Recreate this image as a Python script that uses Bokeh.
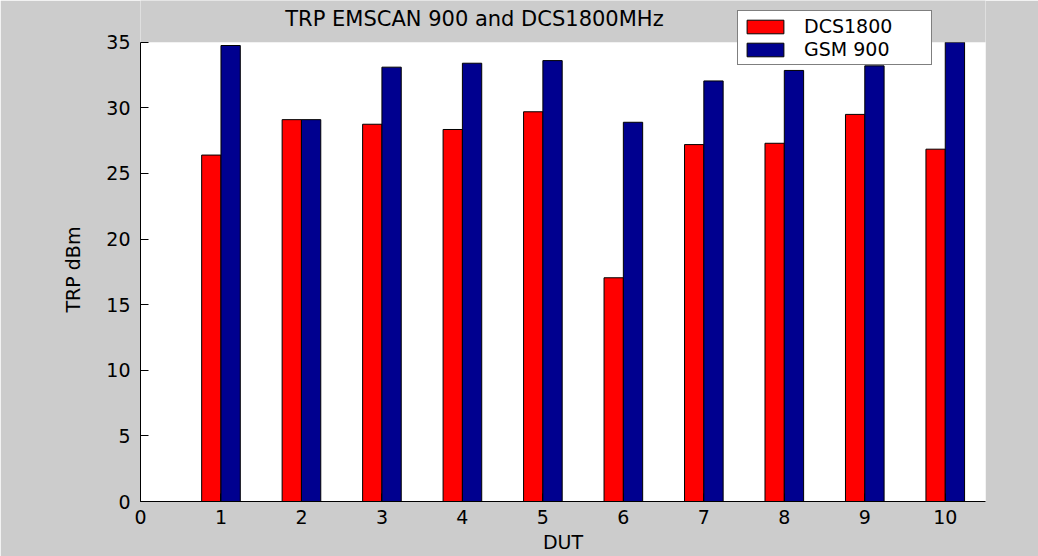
from bokeh.plotting import figure
from bokeh.models import (ColumnDataSource, Legend, LegendItem, Range1d,
                          FixedTicker, Label, Title)
from bokeh.embed import file_html
from bokeh.resources import INLINE

duts = [1, 2, 3, 4, 5, 6, 7, 8, 9, 10]
dcs1800 = [26.4, 29.1, 28.75, 28.35, 29.7, 17.05, 27.2, 27.3, 29.5, 26.85]
gsm900 = [34.75, 29.1, 33.1, 33.4, 33.6, 28.9, 32.05, 32.85, 33.2, 35.0]
x_ticks = [0, 1, 2, 3, 4, 5, 6, 7, 8, 9, 10]
y_ticks = [0, 5, 10, 15, 20, 25, 30, 35]
title_text = "TRP EMSCAN 900 and DCS1800MHz"
x_label = "DUT"
y_label = "TRP dBm"

FONT = "DejaVu Sans"
GRAY = "#CCCCCC"
Y_MAX = max(y_ticks)
Y_TOP = 38.18          # frame extends above the axes so the legend can overlap
X_MAX = 10.5

src = ColumnDataSource(dict(
    x_dcs=[d - 0.12 for d in duts],
    x_gsm=[d + 0.12 for d in duts],
    dcs=dcs1800,
    gsm=gsm900,
))

p = figure(width=1038, height=556,
           x_range=Range1d(0, X_MAX), y_range=Range1d(0, Y_TOP),
           output_backend="svg", toolbar_location=None,
           min_border_left=140, min_border_right=53,
           min_border_top=0, min_border_bottom=55)

p.background_fill_color = "white"
p.border_fill_color = GRAY
p.outline_line_color = None
p.xgrid.visible = False
p.ygrid.visible = False

r1 = p.vbar(x="x_dcs", top="dcs", width=0.24, bottom=0, source=src,
            fill_color="#FF0000", line_color="black", line_width=1)
r2 = p.vbar(x="x_gsm", top="gsm", width=0.24, bottom=0, source=src,
            fill_color="#00008F", line_color="black", line_width=1)
# gray band above the top of the axes (figure background colour)
p.quad(left=-1, right=X_MAX + 1, bottom=Y_MAX, top=Y_TOP + 1,
       fill_color=GRAY, line_color=None)

for ax in (p.xaxis[0], p.yaxis[0]):
    ax.major_tick_in = 8
    ax.major_tick_out = 0
    ax.minor_tick_in = 0
    ax.minor_tick_out = 0
    ax.axis_line_color = "black"
    ax.major_tick_line_color = "black"
    ax.major_label_text_font = FONT
    ax.major_label_text_font_size = "19px"
    ax.major_label_text_color = "black"
    ax.axis_label_text_font = FONT
    ax.axis_label_text_font_size = "19px"
    ax.axis_label_text_font_style = "normal"
    ax.axis_label_text_color = "black"

p.xaxis.ticker = FixedTicker(ticks=x_ticks)
p.yaxis.ticker = FixedTicker(ticks=y_ticks)
p.yaxis.bounds = (0, Y_MAX)
p.xaxis.axis_label = x_label
p.xaxis.major_label_standoff = 8
p.yaxis.major_label_standoff = 10
p.xaxis.axis_label_standoff = 4

# chart title inside the (extended) frame, over the gray band
p.add_layout(Label(x=4.15, y=36.75, text=title_text,
                   text_font=FONT, text_font_size="21px",
                   text_color="black", text_align="center",
                   text_baseline="middle"))

# y axis label as a side title
ytitle = Title(text=y_label, align="left", offset=189, standoff=40,
               text_font=FONT, text_font_size="19px",
               text_font_style="normal", text_color="black")
p.add_layout(ytitle, "left")

legend = Legend(items=[LegendItem(label="DCS1800", renderers=[r1]),
                       LegendItem(label="GSM 900", renderers=[r2])],
                location=(597, 436))
legend.background_fill_color = "white"
legend.background_fill_alpha = 1.0
legend.border_line_color = "black"
legend.border_line_width = 1
legend.glyph_width = 46
legend.glyph_height = 17
legend.label_standoff = 16
legend.label_width = 123
legend.padding = 4
legend.spacing = 1
legend.margin = 0
legend.label_text_font = FONT
legend.label_text_font_size = "19px"
legend.label_text_color = "black"
legend.label_height = 17
p.add_layout(legend)

open("out.html", "w").write(file_html(p, INLINE))
